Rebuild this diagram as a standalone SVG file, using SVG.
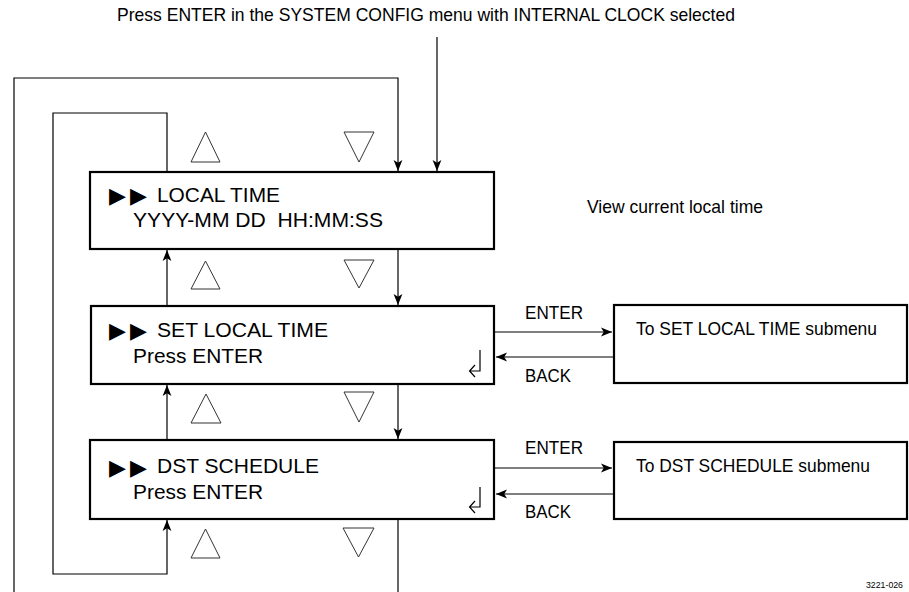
<svg xmlns="http://www.w3.org/2000/svg" width="909" height="592" viewBox="0 0 909 592">
<style>
  .box { fill: #fff; stroke: #000; stroke-width: 2.2; }
  .ln { fill: none; stroke: #000; stroke-width: 1.2; }
  .tri { fill: none; stroke: #333; stroke-width: 1; }
  .bt { font-family: "Liberation Sans", Arial, sans-serif; font-size: 20.5px; fill: #000; white-space: pre; }
  .sym { font-family: "DejaVu Sans", sans-serif; font-size: 22px; fill: #000; }
  .lb { font-family: "Liberation Sans", Arial, sans-serif; font-size: 18.5px; fill: #000; }
  .sm { font-family: "Liberation Sans", Arial, sans-serif; font-size: 9px; fill: #000; }
</style>
<defs>
  <marker id="ah" viewBox="0 0 10 10" refX="10" refY="5" markerWidth="11" markerHeight="11" markerUnits="userSpaceOnUse" orient="auto">
    <path d="M0,1 L10,5 L0,9 L2.5,5 Z" fill="#000"/>
  </marker>
</defs>

<text class="lb" x="117" y="21" textLength="618" lengthAdjust="spacingAndGlyphs">Press ENTER in the SYSTEM CONFIG menu with INTERNAL CLOCK selected</text>

<g id="connectors">
  <line class="ln" x1="437" y1="37" x2="437" y2="171" marker-end="url(#ah)"/>
  <polyline class="ln" points="14,592 14,78 398,78 398,171" marker-end="url(#ah)"/>
  <line class="ln" x1="398" y1="519" x2="398" y2="592"/>
  <polyline class="ln" points="167,172 167,113 53,113 53,574 167,574 167,520" marker-end="url(#ah)"/>
  <line class="ln" x1="398" y1="249" x2="398" y2="305" marker-end="url(#ah)"/>
  <line class="ln" x1="398" y1="384" x2="398" y2="439" marker-end="url(#ah)"/>
  <line class="ln" x1="167" y1="306" x2="167" y2="250" marker-end="url(#ah)"/>
  <line class="ln" x1="167" y1="440" x2="167" y2="385" marker-end="url(#ah)"/>
  <line class="ln" x1="495" y1="332" x2="612" y2="332" marker-end="url(#ah)"/>
  <line class="ln" x1="613" y1="357" x2="496" y2="357" marker-end="url(#ah)"/>
  <line class="ln" x1="495" y1="468" x2="612" y2="468" marker-end="url(#ah)"/>
  <line class="ln" x1="613" y1="494" x2="496" y2="494" marker-end="url(#ah)"/>
</g>

<g id="nav-triangles">
  <polygon class="tri" points="191,162 220,162 205.5,132"/>
  <polygon class="tri" points="344,132 374,132 359,162"/>
  <polygon class="tri" points="191,289 220,289 205.5,261"/>
  <polygon class="tri" points="344,260 374,260 359,288"/>
  <polygon class="tri" points="191,423 221,423 206,394"/>
  <polygon class="tri" points="344,392 374,392 359,422"/>
  <polygon class="tri" points="191,558 220,558 205.5,529"/>
  <polygon class="tri" points="343,528 374,528 358.5,557"/>
</g>

<g id="local-time">
  <rect class="box" x="90" y="172" width="404" height="77"/>
  <text class="sym" x="109" y="203" textLength="38" lengthAdjust="spacing">▶▶</text>
  <text class="bt" x="157" y="201.7" textLength="123" lengthAdjust="spacingAndGlyphs">LOCAL TIME</text>
  <text class="bt" x="133" y="226.7" textLength="250" lengthAdjust="spacingAndGlyphs" xml:space="preserve">YYYY-MM DD  HH:MM:SS</text>
</g>

<text class="lb" x="587" y="213" textLength="176" lengthAdjust="spacingAndGlyphs">View current local time</text>

<g id="set-local-time">
  <rect class="box" x="91" y="306" width="403" height="78"/>
  <text class="sym" x="109" y="338" textLength="38" lengthAdjust="spacing">▶▶</text>
  <text class="bt" x="157" y="336.7" textLength="171" lengthAdjust="spacingAndGlyphs">SET LOCAL TIME</text>
  <text class="bt" x="133" y="362.7" textLength="130" lengthAdjust="spacingAndGlyphs">Press ENTER</text>
  <path class="ln" d="M480,350 V371 H469.5 M475,365 L469.5,371 L475,377"/>
</g>

<g id="dst-schedule">
  <rect class="box" x="90" y="440" width="404" height="79"/>
  <text class="sym" x="109" y="474.5" textLength="38" lengthAdjust="spacing">▶▶</text>
  <text class="bt" x="157" y="473.3" textLength="162" lengthAdjust="spacingAndGlyphs">DST SCHEDULE</text>
  <text class="bt" x="133" y="499" textLength="130" lengthAdjust="spacingAndGlyphs">Press ENTER</text>
  <path class="ln" d="M480,487 V507 H469.5 M475,501 L469.5,507 L475,513"/>
</g>

<g id="enter-back-labels">
  <text class="lb" x="525" y="319" textLength="58" lengthAdjust="spacingAndGlyphs">ENTER</text>
  <text class="lb" x="525" y="382" textLength="46" lengthAdjust="spacingAndGlyphs">BACK</text>
  <text class="lb" x="525" y="454" textLength="58" lengthAdjust="spacingAndGlyphs">ENTER</text>
  <text class="lb" x="525" y="518" textLength="46" lengthAdjust="spacingAndGlyphs">BACK</text>
</g>

<g id="set-local-time-submenu">
  <rect class="box" x="614" y="305" width="293" height="78"/>
  <text class="lb" x="636" y="335" textLength="241" lengthAdjust="spacingAndGlyphs">To SET LOCAL TIME submenu</text>
</g>

<g id="dst-schedule-submenu">
  <rect class="box" x="614" y="442" width="293" height="77"/>
  <text class="lb" x="636" y="472" textLength="234" lengthAdjust="spacingAndGlyphs">To DST SCHEDULE submenu</text>
</g>

<text class="sm" x="866" y="588" textLength="37" lengthAdjust="spacingAndGlyphs">3221-026</text>
</svg>
